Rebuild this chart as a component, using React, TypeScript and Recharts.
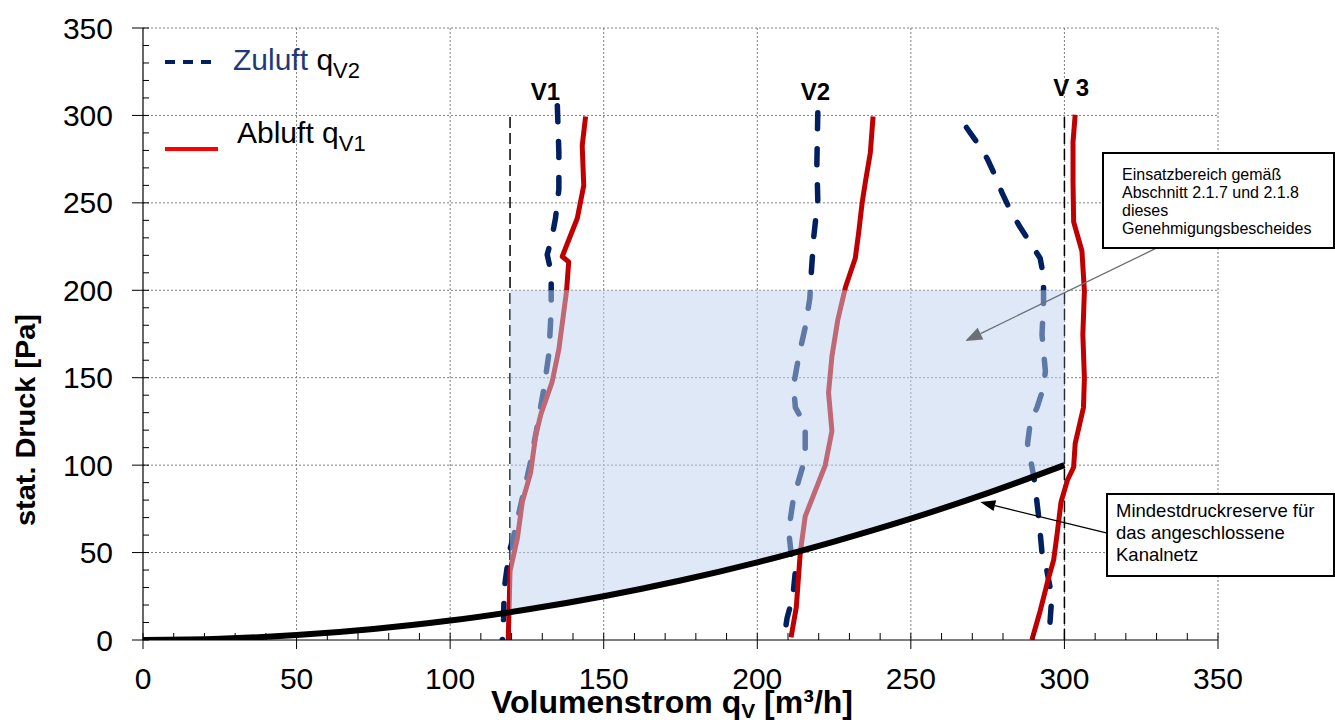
import React from 'react';
import {
  ComposedChart,
  Line,
  Area,
  XAxis,
  YAxis,
  CartesianGrid,
  ReferenceLine,
  ReferenceDot,
} from 'recharts';

const FONT = "'Liberation Sans', Arial, Helvetica, sans-serif";

// ---- axis ticks ----
const allTicks = [
  0, 10, 20, 30, 40, 50, 60, 70, 80, 90, 100, 110, 120, 130, 140, 150, 160, 170,
  180, 190, 200, 210, 220, 230, 240, 250, 260, 270, 280, 290, 300, 310, 320, 330,
  340, 350,
];
const majorTicks = [0, 50, 100, 150, 200, 250, 300, 350];
const gridValues = [50, 100, 150, 200, 250, 300, 350];

// ---- series (q = Volumenstrom m³/h, p = stat. Druck Pa) ----
const v1Zuluft = [
  { q: 134.9, p: 305.6 }, { q: 135.4, p: 278.6 }, { q: 135.4, p: 257.8 },
  { q: 134.3, p: 241.2 }, { q: 133.2, p: 230.8 }, { q: 131.6, p: 220.4 },
  { q: 132.9, p: 210 }, { q: 132.9, p: 189.2 }, { q: 132.2, p: 164.2 },
  { q: 130.5, p: 143.5 }, { q: 128.4, p: 122.7 }, { q: 126.2, p: 101.9 },
  { q: 123.5, p: 81.1 }, { q: 120.8, p: 60.3 }, { q: 119.2, p: 50 },
  { q: 118.4, p: 39.5 }, { q: 117.6, p: 29.1 }, { q: 117.4, p: 12.5 },
  { q: 117, p: 0 },
];
const v1Abluft = [
  { q: 144.1, p: 299.4 }, { q: 143, p: 282.7 }, { q: 143.5, p: 259.9 },
  { q: 141.4, p: 241.2 }, { q: 136.5, p: 219.3 }, { q: 138.6, p: 216.2 },
  { q: 137.9, p: 199.6 }, { q: 135.4, p: 166.3 }, { q: 133.2, p: 147.6 },
  { q: 129.5, p: 128.9 }, { q: 127.8, p: 116.4 }, { q: 126.2, p: 95.6 },
  { q: 123.5, p: 79 }, { q: 121.9, p: 58.2 }, { q: 119.5, p: 39.5 },
  { q: 119.2, p: 18.7 }, { q: 118.9, p: 0 },
];
const v2Zuluft = [
  { q: 219.7, p: 301.5 }, { q: 219.4, p: 272.3 }, { q: 219.7, p: 251.6 },
  { q: 218.4, p: 230.8 }, { q: 217.5, p: 207.9 }, { q: 217.1, p: 195.4 },
  { q: 215.6, p: 178.8 }, { q: 213.5, p: 162.2 }, { q: 211.8, p: 145.5 },
  { q: 212.4, p: 133 }, { q: 215.6, p: 122.7 }, { q: 215.6, p: 104 },
  { q: 213.5, p: 91.5 }, { q: 211.6, p: 79 }, { q: 210.2, p: 62.4 },
  { q: 211, p: 50 }, { q: 212.4, p: 39.5 }, { q: 211.6, p: 25 },
  { q: 209.7, p: 12.5 }, { q: 208.6, p: 0 },
];
const v2Abluft = [
  { q: 237.7, p: 299.4 }, { q: 236.8, p: 278.6 }, { q: 235.2, p: 262 },
  { q: 234.1, p: 249.5 }, { q: 233, p: 232.8 }, { q: 231.9, p: 218.3 },
  { q: 228.7, p: 201.7 }, { q: 226.2, p: 183 }, { q: 224.3, p: 162.2 },
  { q: 223.2, p: 141.4 }, { q: 224.3, p: 119.5 }, { q: 222.1, p: 99.8 },
  { q: 215.6, p: 70.7 }, { q: 214, p: 50 }, { q: 212.7, p: 18.7 },
  { q: 211, p: 1.5 },
];
const v3Zuluft = [
  { q: 268.1, p: 293.1 }, { q: 271, p: 285.9 }, { q: 274.8, p: 275.5 },
  { q: 277, p: 267.2 }, { q: 279.7, p: 255.7 }, { q: 282.2, p: 246.4 },
  { q: 285.6, p: 236 }, { q: 288.7, p: 227.7 }, { q: 292.1, p: 218.3 },
  { q: 293.2, p: 207.9 }, { q: 293.2, p: 193.4 }, { q: 292.7, p: 174.6 },
  { q: 293.8, p: 153.8 }, { q: 293.2, p: 144.5 }, { q: 291.1, p: 133 },
  { q: 288.9, p: 124.7 }, { q: 288, p: 112.3 }, { q: 288.9, p: 104 },
  { q: 290.2, p: 91.5 }, { q: 291.6, p: 70.7 }, { q: 292.7, p: 50 },
  { q: 294.3, p: 39.5 }, { q: 295.9, p: 25 }, { q: 295.4, p: 12.5 },
  { q: 294.9, p: 0 },
];
const v3Abluft = [
  { q: 303.5, p: 300.4 }, { q: 302.8, p: 284.8 }, { q: 302.8, p: 262 },
  { q: 303, p: 239.1 }, { q: 305.7, p: 222.5 }, { q: 306.5, p: 199.6 },
  { q: 306, p: 174.6 }, { q: 306.5, p: 149.7 }, { q: 306.2, p: 133 },
  { q: 303.5, p: 112.3 }, { q: 303, p: 98.8 }, { q: 301, p: 91.5 },
  { q: 298.9, p: 79 }, { q: 297.6, p: 60.3 }, { q: 296.5, p: 45.8 },
  { q: 294.5, p: 33.3 }, { q: 292.1, p: 16.6 }, { q: 289.4, p: 0 },
];
// Anlagenkennlinie (Mindestdruckreserve)
const anlageQ = [0, 25, 50, 75, 100, 125, 150, 175, 200, 225, 250, 275, 300];
const anlageP = [0, 0.7, 2.8, 6.3, 11.1, 17.4, 25, 34, 44.4, 56.3, 69.4, 84, 100];
// Einsatzbereich
const regionQ = [119.5, 125, 150, 175, 200, 225, 250, 275, 300];
const regionLow = [15.9, 17.4, 25, 34, 44.4, 56.3, 69.4, 84, 100];
const regionHigh = [200, 200, 200, 200, 200, 200, 200, 200, 200];

// fan labels and operating-limit lines
const fanLabels = ['V1', 'V2', 'V 3'];
const fanLabelQ = [131, 218.9, 302.2];
const fanLabelP = [308.7, 308.7, 311];
const limitQ = [119.5, 300];
const limitTop = 300;

const legendItems = ['Zuluft', 'Abluft'];
const box1Lines = ['Einsatzbereich gemäß', 'Abschnitt 2.1.7 und 2.1.8', 'dieses', 'Genehmigungsbescheides'];
const box2Lines = ['Mindestdruckreserve für', 'das angeschlossene', 'Kanalnetz'];

const anlage = anlageQ.map((q, i) => ({ q, p: anlageP[i] }));
const region = regionQ.map((q, i) => ({ q, r: [regionLow[i], regionHigh[i]] }));

const XTick = (props: any) => {
  const { x, y, payload } = props;
  const v = payload.value;
  const major = majorTicks.includes(v);
  return (
    <g>
      <line x1={x} x2={x} y1={y - 7} y2={major ? y + 9 : y} stroke="#000" strokeWidth={1} />
      {major && (
        <text x={x} y={y + 49} textAnchor="middle" fontSize={30} fontFamily={FONT} fill="#000">
          {v}
        </text>
      )}
    </g>
  );
};

const YTick = (props: any) => {
  const { x, y, payload } = props;
  const v = payload.value;
  const major = majorTicks.includes(v);
  return (
    <g>
      <line x1={major ? x - 11 : x} x2={x + 6} y1={y} y2={y} stroke="#000" strokeWidth={1} />
      {major && (
        <text x={x - 30} y={y + 10.5} textAnchor="end" fontSize={30} fontFamily={FONT} fill="#000">
          {v}
        </text>
      )}
    </g>
  );
};

const arrowShape = (color: string, head: number, width: number, sw: number) => (props: any) => {
  const { x1, y1, x2, y2 } = props;
  const dx = x2 - x1;
  const dy = y2 - y1;
  const len = Math.hypot(dx, dy) || 1;
  const ux = dx / len;
  const uy = dy / len;
  const bx = x2 - ux * head;
  const by = y2 - uy * head;
  const px = (-uy * width) / 2;
  const py = (ux * width) / 2;
  return (
    <g>
      <line x1={x1} y1={y1} x2={bx} y2={by} stroke={color} strokeWidth={sw} />
      <polygon points={`${x2},${y2} ${bx + px},${by + py} ${bx - px},${by - py}`} fill={color} />
    </g>
  );
};

const fanLabelShape = (text: string) => (props: any) => (
  <text
    x={props.cx}
    y={props.cy}
    textAnchor="middle"
    fontSize={24}
    fontWeight="bold"
    fontFamily={FONT}
    fill="#000"
  >
    {text}
  </text>
);

const NAVY = '#002060';
const RED = '#c00000';

const dashedProps = {
  stroke: NAVY,
  strokeWidth: 5.5,
  strokeDasharray: '16 20',
  strokeLinecap: 'round' as const,
  strokeLinejoin: 'round' as const,
  dot: false,
  activeDot: false,
  isAnimationActive: false,
  type: 'linear' as const,
  dataKey: 'p',
  zIndex: 400,
};
const redProps = {
  stroke: RED,
  strokeWidth: 5,
  strokeLinejoin: 'round' as const,
  dot: false,
  activeDot: false,
  isAnimationActive: false,
  type: 'linear' as const,
  dataKey: 'p',
  zIndex: 400,
};

export default function App() {
  return (
    <div style={{ position: 'relative', width: 1335, height: 720, background: '#fff' }}>
      <style>{'body{margin:0;background:#fff}'}</style>
      <ComposedChart width={1335} height={720} margin={{ top: 28, right: 117, bottom: 40, left: 83 }}>
        <CartesianGrid
          stroke="#7f7f7f"
          strokeDasharray="2 2"
          horizontalValues={gridValues}
          verticalValues={gridValues}
        />
        <XAxis
          type="number"
          dataKey="q"
          domain={[0, 350]}
          ticks={allTicks}
          interval={0}
          tick={XTick}
          tickLine={false}
          tickSize={0}
          tickMargin={0}
          height={40}
          allowDataOverflow
          axisLine={{ stroke: '#000', strokeWidth: 1.2 }}
        />
        <YAxis
          type="number"
          domain={[0, 350]}
          ticks={allTicks}
          interval={0}
          tick={YTick}
          tickLine={false}
          tickSize={0}
          tickMargin={0}
          width={60}
          allowDataOverflow
          axisLine={{ stroke: '#000', strokeWidth: 1.2 }}
        />
        {limitQ.map((q) => (
          <ReferenceLine
            key={`lim${q}`}
            segment={[{ x: q, y: 0 }, { x: q, y: limitTop }]}
            stroke="#000"
            strokeWidth={1.5}
            strokeDasharray="11 5"
            zIndex={300}
          />
        ))}
        <Line data={v1Zuluft} {...dashedProps} />
        <Line data={v1Abluft} {...redProps} />
        <Line data={v2Zuluft} {...dashedProps} />
        <Line data={v2Abluft} {...redProps} />
        <Line data={v3Zuluft} {...dashedProps} />
        <Line data={v3Abluft} {...redProps} />
        <Area
          data={region}
          dataKey="r"
          type="monotone"
          stroke="none"
          fill="#bed2ee"
          fillOpacity={0.5}
          isAnimationActive={false}
          activeDot={false}
          dot={false}
          zIndex={450}
        />
        <Line
          data={anlage}
          dataKey="p"
          type="monotone"
          stroke="#000"
          strokeWidth={6}
          dot={false}
          activeDot={false}
          isAnimationActive={false}
          zIndex={460}
        />
        <ReferenceLine
          segment={[{ x: 329.6, y: 223.8 }, { x: 267.7, y: 171.0 }]}
          shape={arrowShape('#6b7077', 17, 13, 1.3)}
          zIndex={600}
        />
        <ReferenceLine
          segment={[{ x: 313.6, y: 61.2 }, { x: 272.6, y: 78.9 }]}
          shape={arrowShape('#000', 15, 11, 1.3)}
          zIndex={600}
        />
        {fanLabels.map((t, i) => (
          <ReferenceDot
            key={t}
            x={fanLabelQ[i]}
            y={fanLabelP[i]}
            r={0}
            shape={fanLabelShape(t)}
            zIndex={700}
          />
        ))}
      </ComposedChart>

      <svg
        width={1335}
        height={720}
        style={{ position: 'absolute', left: 0, top: 0, pointerEvents: 'none' }}
        fontFamily={FONT}
      >
        {/* legend */}
        <line x1={165} y1={62} x2={215} y2={62} stroke={NAVY} strokeWidth={4} strokeDasharray="10 8" />
        <text x={233} y={70} fontSize={30}>
          <tspan fill="#1f3a78">{legendItems[0]} </tspan>
          <tspan fill="#000">q</tspan>
          <tspan fill="#000" fontSize={22} dy={8}>V2</tspan>
        </text>
        <line x1={165} y1={149} x2={218} y2={149} stroke="#ff0000" strokeWidth={4} />
        <text x={237} y={143} fontSize={30} fill="#000">
          {legendItems[1]} q<tspan fontSize={22} dy={8}>V1</tspan>
        </text>

        {/* axis titles */}
        <text
          transform="translate(35,420) rotate(-90)"
          textAnchor="middle"
          fontSize={27}
          fontWeight="bold"
          fill="#000"
          textLength={212}
          lengthAdjust="spacingAndGlyphs"
        >
          stat. Druck [Pa]
        </text>
        <text
          x={672}
          y={713}
          textAnchor="middle"
          fontSize={32}
          fontWeight="bold"
          fill="#000"
          textLength={362}
          lengthAdjust="spacingAndGlyphs"
        >
          Volumenstrom q<tspan fontSize={21} dy={5}>V</tspan>
          <tspan dy={-5}> [m³/h]</tspan>
        </text>

        {/* annotation boxes */}
        <rect x={1103} y={153} width={231} height={95} fill="#fff" stroke="#000" strokeWidth={2} />
        {box1Lines.map((l, i) => (
          <text key={l} x={1122} y={180 + i * 18.1} fontSize={16} fill="#000">
            {l}
          </text>
        ))}
        <rect x={1107} y={494} width={227} height={82} fill="#fff" stroke="#000" strokeWidth={2} />
        {box2Lines.map((l, i) => (
          <text key={l} x={1116} y={517 + i * 22} fontSize={18.5} fill="#000">
            {l}
          </text>
        ))}
      </svg>
    </div>
  );
}
